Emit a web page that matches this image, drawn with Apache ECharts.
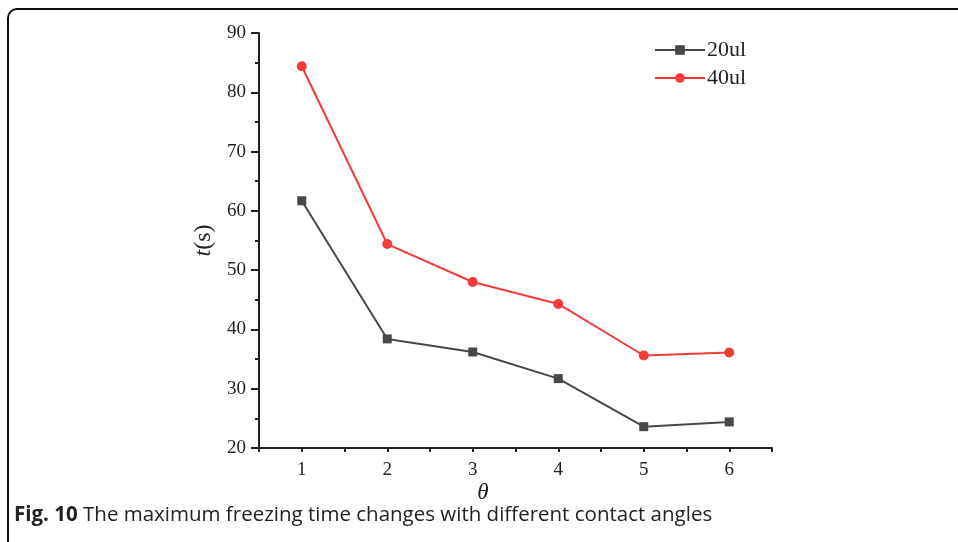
<!DOCTYPE html>
<html>
<head>
<meta charset="utf-8">
<script src="https://cdn.jsdelivr.net/npm/echarts@6/dist/echarts.min.js"></script>
<style>html,body{margin:0;padding:0;background:#fff;}#c{width:958px;height:542px;}</style>
</head>
<body>
<div id="c"></div>
<script>
var categories = ['1', '2', '3', '4', '5', '6'];
var xValues = [1, 2, 3, 4, 5, 6];
var s20 = [61.7, 38.4, 36.2, 31.7, 23.6, 24.4];
var s40 = [84.4, 54.4, 48.0, 44.3, 35.6, 36.1];
var seriesNames = ['20ul', '40ul'];
var caption = 'The maximum freezing time changes with different contact angles';

var chart = echarts.init(document.getElementById('c'));
var serif = 'Liberation Serif';
var axisCol = '#222';
function pairs(v){ return xValues.map(function(x,i){ return [x, v[i]]; }); }
chart.setOption({
  animation: false,
  grid: { left: 259, right: 186, top: 33, bottom: 94, containLabel: false },
  legend: {
    orient: 'vertical', left: 649, top: 34, itemWidth: 50, itemHeight: 12, itemGap: 6,
    textStyle: { fontFamily: serif, fontSize: 22, color: '#222', lineHeight: 20, padding: [0,0,0,-3] },
    data: seriesNames
  },
  xAxis: [{
    type: 'value', min: 0.5, max: 6.5, interval: 0.5,
    axisLine: { lineStyle: { color: axisCol, width: 2 } },
    axisTick: { length: 4, lineStyle: { color: axisCol, width: 2 } },
    axisLabel: { show: false }, splitLine: { show: false }
  }, {
    type: 'category', data: categories, position: 'bottom', boundaryGap: true,
    axisLine: { show: false },
    axisTick: { alignWithLabel: true, length: 8, lineStyle: { color: axisCol, width: 2 } },
    axisLabel: { margin: 13, fontFamily: serif, fontSize: 19, color: '#222' },
    splitLine: { show: false }
  }],
  yAxis: {
    type: 'value', min: 20, max: 90, interval: 10,
    name: '{i|t}(s)', nameLocation: 'middle', nameGap: 42, nameRotate: 90,
    nameTextStyle: { fontFamily: serif, fontSize: 24, color: '#222',
      rich: { i: { fontFamily: serif, fontSize: 24, fontStyle: 'italic', color: '#222' } } },
    axisLine: { show: true, lineStyle: { color: axisCol, width: 2 } },
    axisTick: { show: true, length: 8, lineStyle: { color: axisCol, width: 2 } },
    minorTick: { show: true, splitNumber: 2, length: 4, lineStyle: { color: axisCol, width: 2 } },
    axisLabel: { margin: 13, fontFamily: serif, fontSize: 19, color: '#222' },
    splitLine: { show: false }
  },
  series: [{
    name: seriesNames[0], type: 'line', data: pairs(s20), xAxisIndex: 0,
    symbol: 'rect', symbolSize: 9,
    lineStyle: { color: '#484848', width: 2 }, itemStyle: { color: '#484848' }
  }, {
    name: seriesNames[1], type: 'line', data: pairs(s40), xAxisIndex: 0,
    symbol: 'circle', symbolSize: 10,
    lineStyle: { color: '#f53a3a', width: 2 }, itemStyle: { color: '#f53a3a' }
  }],
  graphic: [{
    type: 'rect', shape: { x: 8, y: 9, width: 1100, height: 700, r: [9, 0, 0, 0] },
    style: { fill: null, stroke: '#111', lineWidth: 2 }, silent: true
  }, {
    type: 'text', x: 483, y: 493,
    style: { text: 'θ', font: 'italic 23px "Liberation Serif"', fill: '#222', textAlign: 'center', textVerticalAlign: 'middle' }
  }, {
    type: 'text', x: 14, y: 515,
    style: {
      text: '{b|Fig. 10} ' + caption,
      textVerticalAlign: 'middle',
      font: '20.5px "Open Sans"', fill: '#222',
      rich: { b: { fontFamily: 'Open Sans', fontWeight: 'bold', fontSize: 20.5, fill: '#222' } }
    }
  }]
});
</script>
</body>
</html>
